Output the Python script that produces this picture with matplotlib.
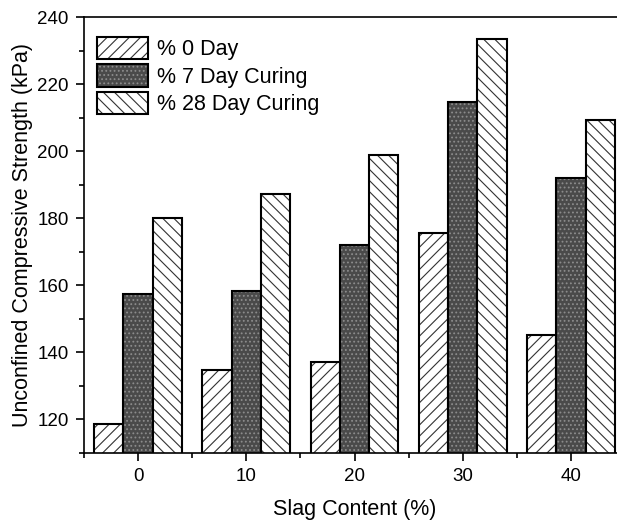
import numpy as np
import matplotlib
matplotlib.use('Agg')
import matplotlib.pyplot as plt

# datos
slag = [0, 10, 20, 30, 40]
dia_0 = [118.5, 134.6, 137.1, 175.6, 145.1]
dia_7 = [157.3, 158.4, 171.9, 214.6, 192.1]
dia_28 = [180.0, 187.3, 199.0, 233.4, 209.3]
etiquetas = ['% 0 Day', '% 7 Day Curing', '% 28 Day Curing']

plt.rcParams['font.family'] = ['Liberation Sans', 'DejaVu Sans']
plt.rcParams['hatch.linewidth'] = 0.8

fig = plt.figure(figsize=(6.17, 5.27), dpi=100)
ax = fig.add_axes([84 / 617, (527 - 453) / 527, 541 / 617, 436 / 527])

x = np.array(slag, dtype=float)
w = 2.7

# 0 días: rayado diagonal
b0 = ax.bar(x - w, dia_0, w, color='white', edgecolor='#333333',
            hatch='///', linewidth=0)
b0e = ax.bar(x - w, dia_0, w, fill=False, edgecolor='black', linewidth=1.5)

# 7 días: gris oscuro punteado
b7 = ax.bar(x, dia_7, w, color='#4a4a4a', edgecolor='#8c8c8c', hatch='....', linewidth=0)
b7e = ax.bar(x, dia_7, w, fill=False, edgecolor='black', linewidth=1.5)

# 28 días: rayado inverso
b28 = ax.bar(x + w, dia_28, w, color='white', edgecolor='#333333',
             hatch='\\\\\\', linewidth=0)
b28e = ax.bar(x + w, dia_28, w, fill=False, edgecolor='black', linewidth=1.5)

ax.set_xlim(-5, 45)
ax.set_ylim(110, 240)
ax.set_xticks(slag)
ax.set_xticks(np.arange(-5, 46, 10), minor=True)
ax.set_yticks(np.arange(120, 241, 20))
ax.set_yticks(np.arange(110, 241, 10), minor=True)
ax.tick_params(axis='both', which='major', direction='out', length=6, width=1.2,
               labelsize=13.5, colors='black', pad=5)
ax.tick_params(axis='both', which='minor', direction='out', length=3.5, width=1.2)
for lado in ['left', 'bottom', 'top']:
    ax.spines[lado].set_linewidth(1.2)
ax.spines['right'].set_visible(False)

ax.set_xlabel('Slag Content (%)', fontsize=15.5, labelpad=10)
ax.set_ylabel('Unconfined Compressive Strength (kPa)', fontsize=15.5, labelpad=3)

ax.legend([(b0[0], b0e[0]), (b7[0], b7e[0]), (b28[0], b28e[0])], etiquetas,
          loc='upper left', bbox_to_anchor=(0.024, 0.955), frameon=False, fontsize=15.5,
          handlelength=2.37, handleheight=1.25, handletextpad=0.42, labelspacing=0.18,
          borderaxespad=0, borderpad=0)

fig.savefig('out.png', dpi=100)
